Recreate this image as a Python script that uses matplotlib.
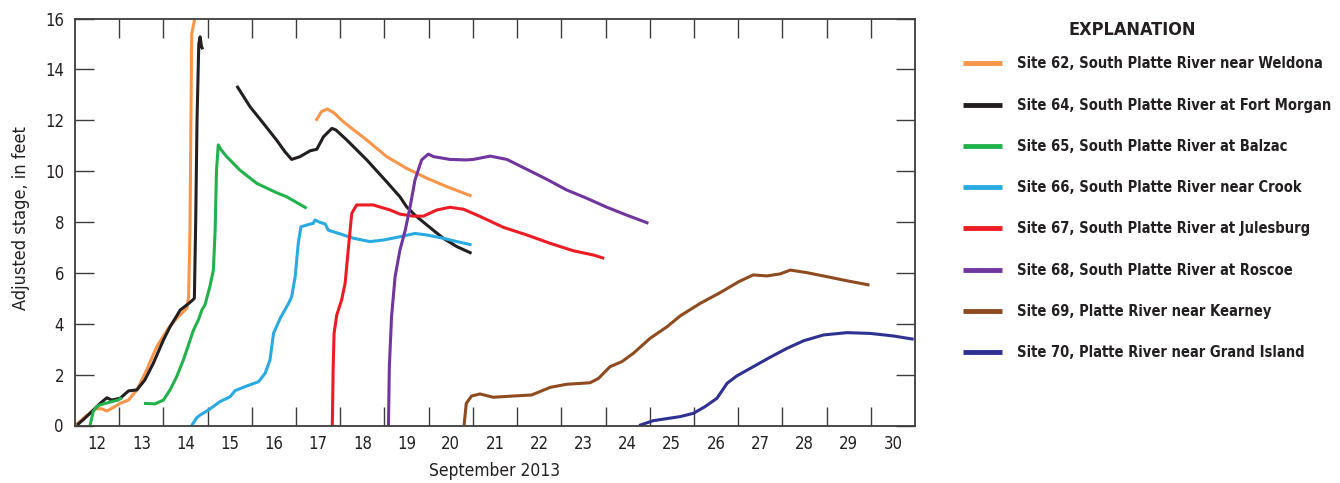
import numpy as np
import matplotlib
matplotlib.use('Agg')
import matplotlib.pyplot as plt

plt.rcParams['font.family'] = ['DejaVu Sans']
plt.rcParams['font.stretch'] = 'condensed'

# days as decimal day of September 2013 (12.0 = Sept 12, 00:00); None = gap
site62_day = [12.02, 12.20, 12.45, 12.60, 12.72, 12.88, 13.02, 13.21, 13.40, 13.62, 13.85, 14.11, 14.30,
              14.53, 14.57, 14.60, 14.64, 14.71, None, 17.45, 17.58, 17.71, 17.85, 18.07, 18.60, 19.05,
              19.50, 19.96, 20.41, 20.97]
site62_ft = [0.02, 0.30, 0.65, 0.66, 0.57, 0.72, 0.87, 1.00, 1.40, 2.18, 3.10, 3.82, 4.21,
             4.61, 5.06, 7.68, 15.4, 16.0, None, 11.98, 12.35, 12.44, 12.30, 11.94, 11.22, 10.57,
             10.11, 9.72, 9.39, 9.02]

site64_day = [12.05, 12.20, 12.34, 12.57, 12.72, 12.83, 13.02, 13.21, 13.40, 13.58, 13.77, 14.00, 14.15,
              14.38, 14.56, 14.66, 14.70, 14.73, 14.76, 14.80, 14.83, 14.86, 14.89, None,
              15.66, 15.96, 16.26, 16.56, 16.75, 16.90, 17.09, 17.32, 17.47, 17.62, 17.81, 17.90,
              18.15, 18.60, 19.05, 19.35, 19.50, 19.69, 19.96, 20.33, 20.64, 20.97]
site64_ft = [0.02, 0.25, 0.48, 0.87, 1.09, 1.00, 1.07, 1.36, 1.40, 1.79, 2.44, 3.36, 3.88,
             4.54, 4.78, 4.93, 5.0, 8.0, 12.0, 15.0, 15.28, 14.9, 14.79, None,
             13.35, 12.53, 11.88, 11.22, 10.76, 10.46, 10.57, 10.80, 10.86, 11.35, 11.68, 11.62,
             11.22, 10.44, 9.58, 8.99, 8.60, 8.27, 7.88, 7.36, 7.03, 6.77]

site65_day = [12.34, 12.41, 12.49, 12.57, 12.79, 12.98, 13.06, None,
              13.56, 13.81, 14.00, 14.15, 14.30, 14.45, 14.68, 14.79, 14.87, 14.94, 15.05, 15.13,
              15.17, 15.20, 15.24, 15.30, 15.43, 15.73, 16.11, 16.56, 16.79, 17.02, 17.24]
site65_ft = [0.0, 0.54, 0.74, 0.81, 0.92, 1.00, 1.10, None,
             0.87, 0.85, 1.00, 1.40, 1.92, 2.57, 3.75, 4.15, 4.54, 4.74, 5.46, 6.11,
             7.68, 10.0, 11.03, 10.85, 10.57, 10.04, 9.52, 9.15, 8.99, 8.76, 8.54]

site66_day = [14.64, 14.75, 14.83, 15.02, 15.28, 15.51, 15.62, 15.88, 16.15, 16.30, 16.41, 16.49, 16.64,
              16.83, 16.90, 16.98, 17.05, 17.11, 17.24, 17.39, 17.43, 17.52, 17.66, 17.73, 18.00,
              18.30, 18.67, 18.97, 19.35, 19.69, 19.96, 20.33, 20.64, 20.97]
site66_ft = [0.0, 0.30, 0.41, 0.61, 0.94, 1.13, 1.37, 1.55, 1.72, 2.05, 2.57, 3.62, 4.21,
             4.80, 5.06, 5.85, 7.16, 7.81, 7.88, 7.95, 8.08, 8.00, 7.92, 7.68, 7.53,
             7.36, 7.23, 7.29, 7.42, 7.55, 7.49, 7.36, 7.23, 7.10]

site67_day = [17.82, 17.84, 17.86, 17.92, 18.03, 18.11, 18.18, 18.26, 18.37, 18.75, 18.82, 19.13, 19.35,
              19.65, 19.88, 20.18, 20.48, 20.79, 21.16, 21.69, 22.22, 22.75, 23.27, 23.73, 23.97]
site67_ft = [0.0, 2.31, 3.62, 4.34, 4.93, 5.59, 6.90, 8.34, 8.67, 8.67, 8.63, 8.47, 8.31,
             8.23, 8.23, 8.47, 8.58, 8.50, 8.22, 7.79, 7.49, 7.16, 6.87, 6.70, 6.57]

site68_day = [19.09, 19.11, 19.16, 19.24, 19.35, 19.47, 19.58, 19.69, 19.84, 19.99, 20.11, 20.48, 20.86,
              21.01, 21.39, 21.77, 22.22, 22.67, 23.12, 23.58, 24.03, 24.48, 24.97]
site68_ft = [0.0, 2.31, 4.28, 5.85, 6.90, 7.68, 8.60, 9.65, 10.44, 10.67, 10.57, 10.46, 10.44,
             10.46, 10.59, 10.46, 10.07, 9.68, 9.26, 8.93, 8.58, 8.27, 7.95]

site69_day = [20.80, 20.85, 20.97, 21.16, 21.46, 21.92, 22.33, 22.75, 23.12, 23.65, 23.84, 24.10, 24.37,
              24.63, 25.01, 25.39, 25.69, 26.14, 26.59, 27.01, 27.34, 27.65, 27.95, 28.18, 28.55,
              29.01, 29.46, 29.97]
site69_ft = [0.0, 0.87, 1.16, 1.24, 1.11, 1.16, 1.20, 1.50, 1.62, 1.68, 1.85, 2.31, 2.51,
             2.84, 3.43, 3.88, 4.31, 4.80, 5.22, 5.65, 5.92, 5.88, 5.96, 6.11, 6.01,
             5.85, 5.69, 5.52]

site70_day = [24.76, 25.08, 25.69, 25.99, 26.25, 26.52, 26.75, 26.97, 27.34, 27.72, 28.10, 28.48, 28.93,
              29.46, 29.99, 30.51, 30.97]
site70_ft = [0.0, 0.19, 0.35, 0.48, 0.74, 1.07, 1.66, 1.95, 2.31, 2.68, 3.03, 3.33, 3.56,
             3.65, 3.62, 3.52, 3.39]

labels = ['Site 62, South Platte River near Weldona',
          'Site 64, South Platte River at Fort Morgan',
          'Site 65, South Platte River at Balzac',
          'Site 66, South Platte River near Crook',
          'Site 67, South Platte River at Julesburg',
          'Site 68, South Platte River at Roscoe',
          'Site 69, Platte River near Kearney',
          'Site 70, Platte River near Grand Island']
colors = ['#F7964A', '#231F20', '#22B24C', '#29ABE2', '#ED1C24', '#7135A0', '#8E4B1F', '#2E3192']
series = [(site62_day, site62_ft), (site64_day, site64_ft), (site65_day, site65_ft),
          (site66_day, site66_ft), (site67_day, site67_ft), (site68_day, site68_ft),
          (site69_day, site69_ft), (site70_day, site70_ft)]

day_labels = [str(d) for d in range(12, 31)]

fig = plt.figure(figsize=(13.4, 4.83), dpi=100)
ax = fig.add_axes([75 / 1340, 57.5 / 483, 840 / 1340, 407 / 483])

handles = []
for (d, f), c, lab in zip(series, colors, labels):
    d = np.array(d, dtype=float)
    f = np.array(f, dtype=float)
    ln, = ax.plot(d, f, color=c, lw=2.2, label=lab, solid_capstyle='butt')
    handles.append(ln)

ax.set_xlim(12, 31)
ax.set_ylim(0, 16)

for s in ax.spines.values():
    s.set_color('#3c3c3c')
    s.set_linewidth(1.3)

# day boundaries get tick marks, day centres get the labels
ax.set_xticks(np.arange(13, 31))
ax.set_xticklabels([])
ax.set_xticks(np.arange(12, 31) + 0.5, minor=True)
ax.set_xticklabels(day_labels, minor=True)
ax.tick_params(axis='x', which='major', direction='in', length=14, width=1.0, color='#3c3c3c',
               top=True, bottom=True)
ax.tick_params(axis='x', which='minor', length=0, pad=7, labelsize=12, labelcolor='#231F20')
ax.set_yticks(np.arange(0, 17, 2))
ax.tick_params(axis='y', direction='in', length=14, width=1.0, color='#3c3c3c',
               left=True, right=True, pad=8, labelsize=12, labelcolor='#231F20')

ax.set_xlabel('September 2013', fontsize=12.5, color='#231F20', labelpad=6)
ax.set_ylabel('Adjusted stage, in feet', fontsize=13, color='#231F20')
ax.yaxis.set_label_coords(-0.054, 0.51)

fig.text(1132 / 1340, 1 - 30 / 483, 'EXPLANATION', ha='center', va='center',
         fontsize=13, fontweight='bold', color='#231F20')

fs = 10.5
leg = fig.legend(handles=handles, loc='upper left', bbox_to_anchor=(963 / 1340, 1 - 56.5 / 483),
                 frameon=False, fontsize=fs, handlelength=2.67, handletextpad=1.03,
                 labelspacing=1.8, borderpad=0, borderaxespad=0)
for t in leg.get_texts():
    t.set_fontweight('bold')
    t.set_color('#231F20')
for h in leg.legend_handles:
    h.set_linewidth(3.5)

fig.savefig('out.png', dpi=100)
